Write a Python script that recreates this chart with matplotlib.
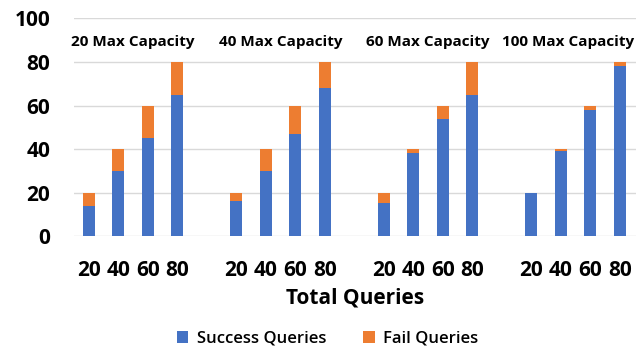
import matplotlib.pyplot as plt
import matplotlib.transforms as mtransforms
import numpy as np

plt.rcParams["font.family"] = ["Open Sans", "DejaVu Sans"]

capacities = ["20 Max Capacity", "40 Max Capacity", "60 Max Capacity", "100 Max Capacity"]
total_queries = [20, 40, 60, 80]

# successful queries per group, one list per max capacity
success = [
    [14, 30, 45, 65],
    [16, 30, 47, 68],
    [15, 38, 54, 65],
    [20, 39, 58, 78],
]

BLUE = "#4472C4"
ORANGE = "#ED7D31"


def main() -> None:
    fig = plt.figure(figsize=(6.36, 3.53), dpi=100)
    ax = fig.add_axes([0.1164, 0.3314, 0.8836, 0.6162])

    n = len(total_queries)
    ticks = []
    labels = []
    for g, cap in enumerate(capacities):
        xs = np.arange(n) + g * (n + 1)
        ok = np.array(success[g])
        fail = np.array(total_queries) - ok
        ax.bar(xs, ok, width=0.4, color=BLUE, zorder=3,
               label="Success Queries" if g == 0 else None)
        ax.bar(xs, fail, width=0.4, bottom=ok, color=ORANGE, zorder=3,
               label="Fail Queries" if g == 0 else None)
        if g < len(capacities) - 1:
            ax.text(xs.mean(), 89, cap, ha="center", va="center",
                    fontsize=11, fontweight="bold")
        else:
            # last title would run past the right edge, so pin it there
            trans = mtransforms.blended_transform_factory(ax.transAxes, ax.transData)
            ax.text(0.997, 89, cap, ha="right", va="center", transform=trans,
                    fontsize=11, fontweight="bold")
        ticks.extend(xs)
        labels.extend(str(q) for q in total_queries)

    ax.set_xticks(ticks)
    ax.set_xticklabels(labels, fontsize=15, fontweight="bold")
    ax.set_xlim(-0.5, 18.55)
    ax.set_ylim(0, 100)
    ax.set_yticks(range(0, 101, 20))
    ax.tick_params(axis="y", labelsize=15, length=0, pad=17)
    ax.tick_params(axis="x", length=0, pad=17)
    for lab in ax.get_yticklabels():
        lab.set_fontweight("bold")

    ax.grid(axis="y", color="#d9d9d9", linewidth=1, zorder=0)
    for side in ["top", "right", "left", "bottom"]:
        ax.spines[side].set_visible(False)

    ax.set_xlabel("Total Queries", fontsize=15, fontweight="bold", labelpad=5)
    fig.legend(loc="center", bbox_to_anchor=(0.515, 0.04), ncol=2, frameon=False,
               prop={"size": 12, "weight": "semibold"},
               handlelength=0.7, handleheight=0.7,
               columnspacing=2.2, handletextpad=0.5)

    fig.savefig("out.png", dpi=100)


if __name__ == "__main__":
    main()
